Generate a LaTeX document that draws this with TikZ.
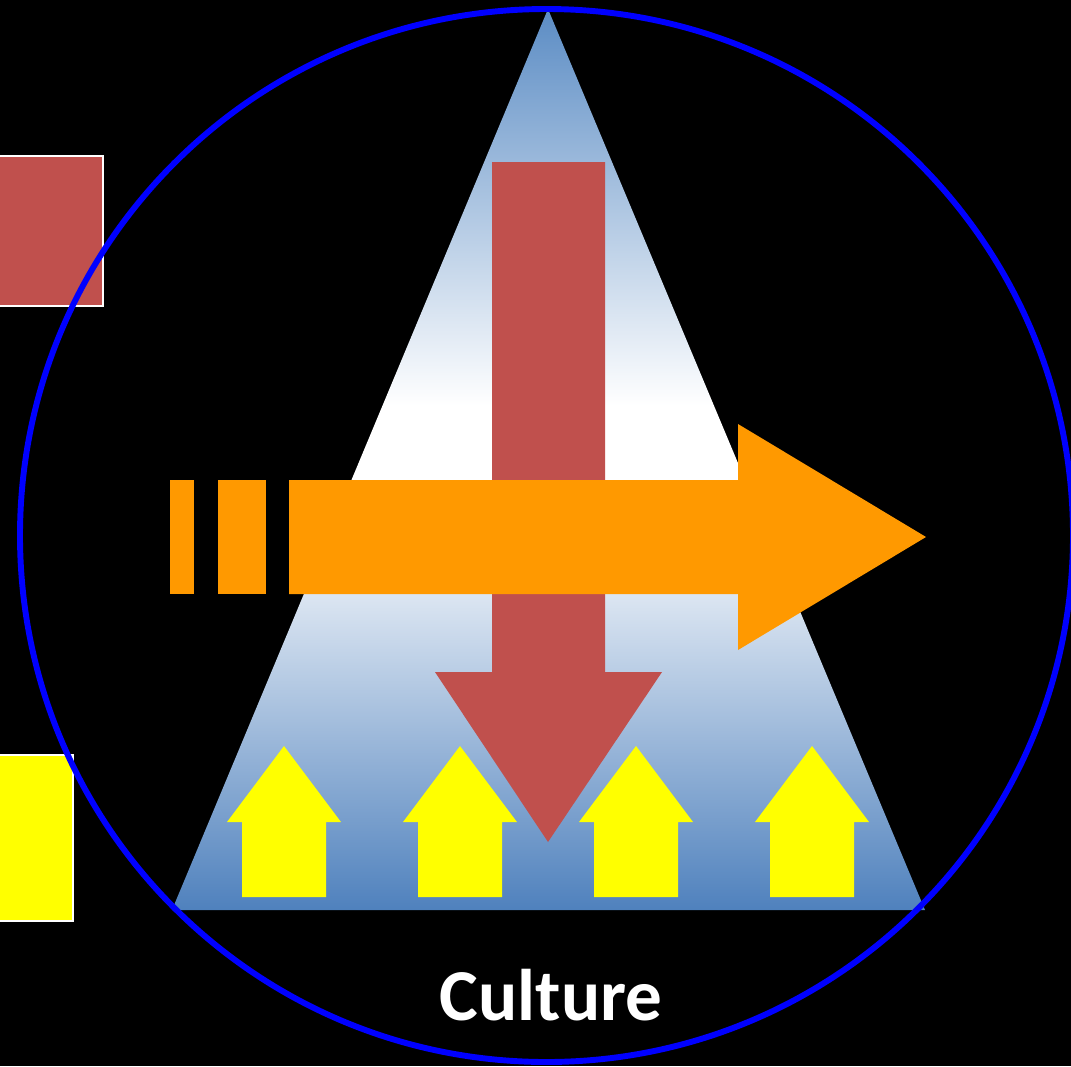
\documentclass[tikz,border=0pt]{standalone}
\usepackage{fontspec}
\setmainfont{Carlito}
\definecolor{redarrow}{HTML}{C0504D}
\definecolor{orangearrow}{HTML}{FF9900}
\definecolor{yellowarrow}{HTML}{FFFF00}
\definecolor{pyrblue}{HTML}{4F81BD}
\definecolor{pyrtop}{HTML}{5B8CC4}
\pgfdeclareverticalshading{pyramid}{100bp}{color(0bp)=(pyrblue); color(25bp)=(pyrblue);
  color(37bp)=(pyrblue!45!white); color(47bp)=(white); color(53bp)=(white);
  color(63bp)=(pyrtop!45!white); color(75bp)=(pyrtop); color(100bp)=(pyrtop)}
\begin{document}
\begin{tikzpicture}[x=0.025cm, y=-0.025cm]
  \tikzstyle{keybox}=[draw=white,line width=1.5pt]
  \useasboundingbox[fill=black] (0,0) rectangle (1071,1066);
  % pyramid
  \shade[shading=pyramid]
    (548,9) -- (925,910) -- (172,910) -- cycle;
  % legend boxes on the left
  \draw[keybox,fill=redarrow] (-5,156) rectangle (103,306);
  \draw[keybox,fill=yellowarrow] (-5,755) rectangle (73,921);
  % top-down arrow
  \fill[redarrow] (492,162) -- (605,162) -- (605,672) -- (662,672) -- (548,842)
    -- (435,672) -- (492,672) -- cycle;
  % bottom-up arrows
  \foreach \xc in {284,460,636,812} {
    \fill[yellowarrow] (\xc-42,897) -- (\xc-42,822) -- (\xc-57,822) -- (\xc,746)
      -- (\xc+57,822) -- (\xc+42,822) -- (\xc+42,897) -- cycle;
  }
  % sideways arrow
  \fill[orangearrow] (170,480) rectangle (194,594);
  \fill[orangearrow] (218,480) rectangle (266,594);
  \fill[orangearrow] (289,480) -- (738,480) -- (738,424) -- (926,537) -- (738,650)
    -- (738,594) -- (289,594) -- cycle;
  \draw[blue,line width=4.2pt] (546.5,535.5) circle (526.5);
  \node[text=white,font=\bfseries\fontsize{52}{60}\selectfont] (culture) at (551,995) {Culture};
\end{tikzpicture}
\end{document}
